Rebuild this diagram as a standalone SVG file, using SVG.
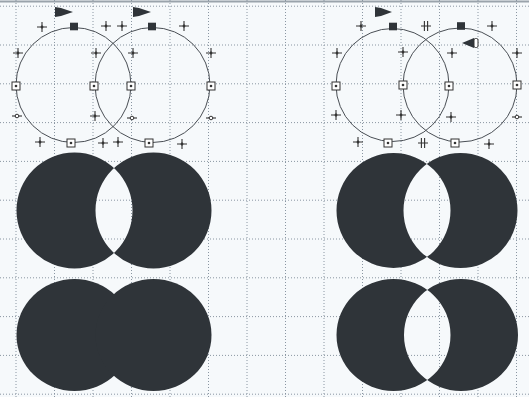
<svg xmlns="http://www.w3.org/2000/svg" xmlns:xlink="http://www.w3.org/1999/xlink" width="529" height="397" viewBox="0 0 529 397">
<style>
.grid line{stroke:#8a96a2;stroke-width:1;stroke-dasharray:1 2}
.outline{fill:none;stroke:#4a4f55;stroke-width:1}
.solid{fill:#2f3439}
.star{stroke:#333;stroke-width:1.1;fill:none}
.flag{fill:#2f3439}
</style>
<defs>
<g id="star"><path class="star" d="M-5,0H5M0,-5V5"/><path d="M0,-2L1.6,0L0,2L-1.6,0Z" fill="#333"/></g>
<g id="dstar"><path class="star" d="M-5,0H5M-1.6,-5V5M1.6,-5V5"/></g>
<g id="bar"><path class="star" d="M-5,0H5"/><circle r="1.8" fill="#fff" stroke="#333" stroke-width="1"/></g>
<g id="hs"><rect x="-4" y="-4" width="8" height="8" fill="#fff" stroke="#333" stroke-width="1"/><circle r="1.3" fill="#333"/></g>
<g id="ts"><rect x="-4" y="-3.8" width="8" height="7.6" fill="#2f3439"/></g>
</defs>
<rect width="529" height="397" fill="#f6f9fb"/>
<line x1="0" y1="1.5" x2="529" y2="1.5" stroke="#9aa3ab" stroke-width="2"/>
<g class="grid">
<line x1="16" y1="0" x2="16" y2="397"/><line x1="54.5" y1="0" x2="54.5" y2="397"/><line x1="93" y1="0" x2="93" y2="397"/><line x1="131.5" y1="0" x2="131.5" y2="397"/><line x1="170" y1="0" x2="170" y2="397"/><line x1="208.5" y1="0" x2="208.5" y2="397"/><line x1="247" y1="0" x2="247" y2="397"/><line x1="285.5" y1="0" x2="285.5" y2="397"/><line x1="324" y1="0" x2="324" y2="397"/><line x1="362.5" y1="0" x2="362.5" y2="397"/><line x1="401" y1="0" x2="401" y2="397"/><line x1="439.5" y1="0" x2="439.5" y2="397"/><line x1="478" y1="0" x2="478" y2="397"/><line x1="516.5" y1="0" x2="516.5" y2="397"/>
<line x1="0" y1="6.2" x2="529" y2="6.2"/><line x1="0" y1="45" x2="529" y2="45"/><line x1="0" y1="83.8" x2="529" y2="83.8"/><line x1="0" y1="122.6" x2="529" y2="122.6"/><line x1="0" y1="161.4" x2="529" y2="161.4"/><line x1="0" y1="200.2" x2="529" y2="200.2"/><line x1="0" y1="239" x2="529" y2="239"/><line x1="0" y1="277.8" x2="529" y2="277.8"/><line x1="0" y1="316.6" x2="529" y2="316.6"/><line x1="0" y1="355.4" x2="529" y2="355.4"/><line x1="0" y1="394.2" x2="529" y2="394.2"/>
</g>
<g id="outline-left">
<circle class="outline" cx="73.5" cy="85" r="57.5"/>
<circle class="outline" cx="152.5" cy="85" r="57.5"/>
<polygon class="flag" points="55,7 61,8 73,12 61,16 55,17"/>
<polygon class="flag" points="133,7 139,8 151,12 139,16 133,17"/>
<use xlink:href="#ts" x="74" y="26.5"/><use xlink:href="#ts" x="152" y="26.5"/>
<use xlink:href="#hs" x="16" y="86"/><use xlink:href="#hs" x="94" y="86"/><use xlink:href="#hs" x="131" y="86"/><use xlink:href="#hs" x="211" y="86"/>
<use xlink:href="#hs" x="71" y="143"/><use xlink:href="#hs" x="149" y="143"/>
<use xlink:href="#star" x="42" y="27"/><use xlink:href="#star" x="106" y="26"/><use xlink:href="#star" x="122" y="26"/><use xlink:href="#star" x="184" y="26"/>
<use xlink:href="#star" x="18" y="53"/><use xlink:href="#star" x="96" y="53"/><use xlink:href="#star" x="133" y="53"/><use xlink:href="#star" x="211" y="53"/>
<use xlink:href="#bar" x="17" y="116"/><use xlink:href="#star" x="95" y="116"/><use xlink:href="#bar" x="132" y="118"/><use xlink:href="#bar" x="211" y="118"/>
<use xlink:href="#star" x="40" y="142"/><use xlink:href="#star" x="103" y="143"/><use xlink:href="#star" x="118" y="142"/><use xlink:href="#star" x="182" y="144"/>
</g>
<g id="outline-right">
<circle class="outline" cx="392.5" cy="85" r="56.5"/>
<circle class="outline" cx="460" cy="85" r="57"/>
<polygon class="flag" points="375,7 381,8 392,12 381,16 375,17"/>
<polygon class="flag" points="462,43 474,38 474,48"/>
<rect x="474" y="38.5" width="4" height="9" rx="1.5" fill="#fff" stroke="#333" stroke-width="1"/>
<use xlink:href="#ts" x="393" y="26.5"/><use xlink:href="#ts" x="461" y="26"/>
<use xlink:href="#hs" x="336" y="86"/><use xlink:href="#hs" x="403" y="85"/><use xlink:href="#hs" x="449" y="86"/><use xlink:href="#hs" x="517" y="85"/>
<use xlink:href="#hs" x="388" y="143"/><use xlink:href="#hs" x="455" y="143"/>
<use xlink:href="#star" x="361" y="26"/><use xlink:href="#dstar" x="426" y="26"/><use xlink:href="#star" x="492" y="26"/>
<use xlink:href="#star" x="337" y="53"/><use xlink:href="#star" x="403" y="52"/><use xlink:href="#star" x="452" y="53"/><use xlink:href="#star" x="517" y="53"/>
<use xlink:href="#star" x="336" y="115"/><use xlink:href="#star" x="401" y="115"/><use xlink:href="#star" x="451" y="117"/><use xlink:href="#bar" x="517" y="117"/>
<use xlink:href="#star" x="358" y="142"/><use xlink:href="#dstar" x="423" y="143"/><use xlink:href="#star" x="489" y="144"/>
</g>
<g id="xor-top-left">
<path class="solid" fill-rule="evenodd" d="M16.5,210.5a58,58 0 1,0 116,0a58,58 0 1,0 -116,0ZM95.5,210.5a58,58 0 1,0 116,0a58,58 0 1,0 -116,0Z"/>
</g>
<g id="union-bottom-left">
<ellipse class="solid" cx="74.5" cy="335" rx="58" ry="56"/>
<ellipse class="solid" cx="153.5" cy="335" rx="58" ry="56"/>
</g>
<g id="xor-top-right">
<path class="solid" fill-rule="evenodd" d="M336.5,210.5a57,57.5 0 1,0 114,0a57,57.5 0 1,0 -114,0ZM403.5,210.5a57,57.5 0 1,0 114,0a57,57.5 0 1,0 -114,0Z"/>
</g>
<g id="xor-bottom-right">
<path class="solid" fill-rule="evenodd" d="M336.5,335a57,56 0 1,0 114,0a57,56 0 1,0 -114,0ZM404,335a57,56 0 1,0 114,0a57,56 0 1,0 -114,0Z"/>
</g>
</svg>
